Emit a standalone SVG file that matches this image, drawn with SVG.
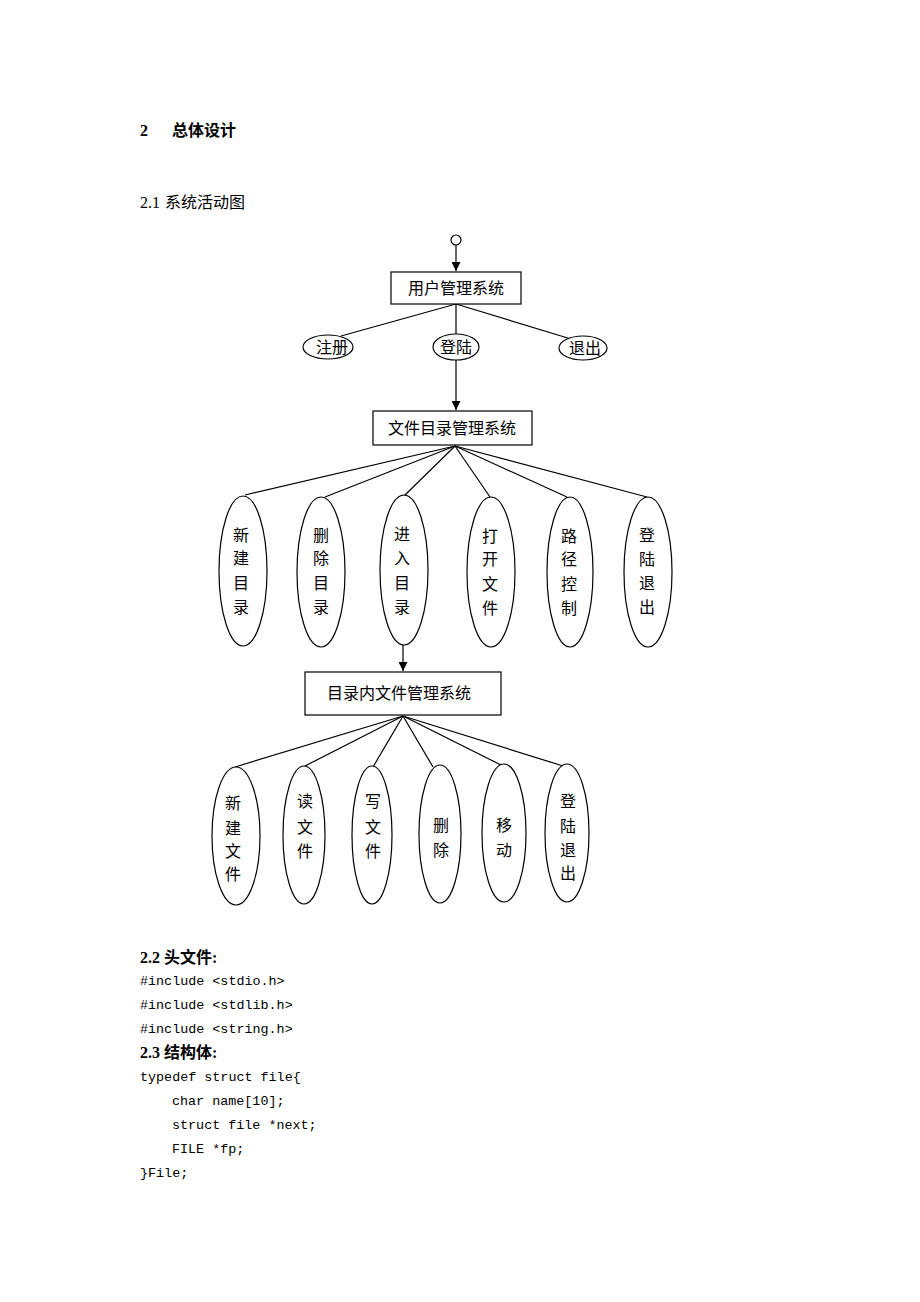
<svg xmlns="http://www.w3.org/2000/svg" width="920" height="1302" viewBox="0 0 920 1302">
<style>
.t{font-family:"Liberation Serif","Noto Sans CJK SC",serif;font-size:16px;fill:#000}
.b{font-weight:bold}
.c{font-family:"Liberation Mono","Noto Sans CJK SC",monospace;font-size:13.4px;fill:#000}
.lb{font-family:"Liberation Serif","Noto Sans CJK SC",serif;font-size:16px;fill:#000;text-anchor:middle}
.n{fill:#fff;stroke:#000;stroke-width:1.2}
.e{stroke:#000;stroke-width:1.2;fill:none}
</style>
<defs>
<marker id="ah" viewBox="0 0 10 10" refX="10" refY="5" markerWidth="9" markerHeight="9" markerUnits="userSpaceOnUse" orient="auto">
<path d="M0,0 L10,5 L0,10 z" fill="#000"/>
</marker>
</defs>
<rect width="920" height="1302" fill="#fff"/>
<g id="headings">
<text class="t b" x="140" y="136">2</text>
<text class="t b" x="172" y="136">总体设计</text>
<text class="t" x="140" y="208">2.1<tspan x="165">系统活动图</tspan></text>
</g>
<g id="connectors">
<line class="e" x1="456" y1="245" x2="456" y2="271" marker-end="url(#ah)"/>
<line class="e" x1="456" y1="304" x2="341" y2="336"/>
<line class="e" x1="456" y1="304" x2="456" y2="334"/>
<line class="e" x1="456" y1="304" x2="571" y2="339"/>
<line class="e" x1="456" y1="360" x2="456" y2="410" marker-end="url(#ah)"/>
<line class="e" x1="455" y1="446" x2="245" y2="495"/>
<line class="e" x1="455" y1="446" x2="325" y2="497"/>
<line class="e" x1="455" y1="446" x2="405" y2="495"/>
<line class="e" x1="455" y1="446" x2="490" y2="497"/>
<line class="e" x1="455" y1="446" x2="567" y2="497"/>
<line class="e" x1="455" y1="446" x2="647" y2="497"/>
<line class="e" x1="403" y1="645" x2="403" y2="671" marker-end="url(#ah)"/>
<line class="e" x1="403" y1="716" x2="235" y2="767"/>
<line class="e" x1="403" y1="716" x2="303" y2="767"/>
<line class="e" x1="403" y1="716" x2="373" y2="767"/>
<line class="e" x1="403" y1="716" x2="433" y2="767"/>
<line class="e" x1="403" y1="716" x2="503" y2="766"/>
<line class="e" x1="403" y1="716" x2="563" y2="766"/>
</g>
<g id="start"><circle class="n" cx="456" cy="240" r="5"/></g>
<g id="user-mgmt"><rect class="n" x="391" y="272" width="130" height="32"/><text class="lb" x="456" y="294">用户管理系统</text></g>
<g id="register"><ellipse class="n" cx="328" cy="347" rx="25" ry="12"/><text class="lb" x="332" y="353">注册</text></g>
<g id="login"><ellipse class="n" cx="456" cy="347" rx="23" ry="13"/><text class="lb" x="456" y="353">登陆</text></g>
<g id="exit"><ellipse class="n" cx="583" cy="348" rx="24" ry="12"/><text class="lb" x="585" y="354">退出</text></g>
<g id="dir-mgmt"><rect class="n" x="373" y="411" width="159" height="34"/><text class="lb" x="452" y="434">文件目录管理系统</text></g>
<g id="new-dir"><ellipse class="n" cx="243" cy="571" rx="24" ry="75"/>
<text class="lb" x="241" y="541">新</text><text class="lb" x="241" y="564">建</text><text class="lb" x="241" y="589">目</text><text class="lb" x="241" y="613">录</text></g>
<g id="del-dir"><ellipse class="n" cx="321" cy="572" rx="24" ry="75"/>
<text class="lb" x="321" y="541">删</text><text class="lb" x="321" y="564">除</text><text class="lb" x="321" y="589">目</text><text class="lb" x="321" y="613">录</text></g>
<g id="enter-dir"><ellipse class="n" cx="404" cy="570" rx="24" ry="75"/>
<text class="lb" x="402" y="540">进</text><text class="lb" x="402" y="564">入</text><text class="lb" x="402" y="589">目</text><text class="lb" x="402" y="613">录</text></g>
<g id="open-file"><ellipse class="n" cx="491" cy="572" rx="24" ry="75"/>
<text class="lb" x="490" y="542">打</text><text class="lb" x="490" y="565">开</text><text class="lb" x="490" y="590">文</text><text class="lb" x="490" y="614">件</text></g>
<g id="path-ctrl"><ellipse class="n" cx="570" cy="572" rx="23" ry="75"/>
<text class="lb" x="569" y="542">路</text><text class="lb" x="569" y="565">径</text><text class="lb" x="569" y="590">控</text><text class="lb" x="569" y="614">制</text></g>
<g id="logout1"><ellipse class="n" cx="648" cy="572" rx="24" ry="75"/>
<text class="lb" x="647" y="541">登</text><text class="lb" x="647" y="565">陆</text><text class="lb" x="647" y="589">退</text><text class="lb" x="647" y="613">出</text></g>
<g id="file-mgmt"><rect class="n" x="305" y="672" width="196" height="43"/><text class="lb" x="399" y="699">目录内文件管理系统</text></g>
<g id="new-file"><ellipse class="n" cx="236" cy="836" rx="24" ry="69"/>
<text class="lb" x="233" y="809">新</text><text class="lb" x="233" y="834">建</text><text class="lb" x="233" y="857">文</text><text class="lb" x="233" y="880">件</text></g>
<g id="read-file"><ellipse class="n" cx="304" cy="835" rx="21" ry="69"/>
<text class="lb" x="305" y="807">读</text><text class="lb" x="305" y="833">文</text><text class="lb" x="305" y="857">件</text></g>
<g id="write-file"><ellipse class="n" cx="372" cy="835" rx="20" ry="69"/>
<text class="lb" x="373" y="807">写</text><text class="lb" x="373" y="833">文</text><text class="lb" x="373" y="857">件</text></g>
<g id="delete"><ellipse class="n" cx="440" cy="834" rx="21" ry="69"/>
<text class="lb" x="441" y="831">删</text><text class="lb" x="441" y="856">除</text></g>
<g id="move"><ellipse class="n" cx="504" cy="833" rx="22" ry="69"/>
<text class="lb" x="504" y="831">移</text><text class="lb" x="504" y="856">动</text></g>
<g id="logout2"><ellipse class="n" cx="567" cy="833" rx="22" ry="69"/>
<text class="lb" x="568" y="807">登</text><text class="lb" x="568" y="832">陆</text><text class="lb" x="568" y="856">退</text><text class="lb" x="568" y="879">出</text></g>
<g id="code">
<text class="t b" x="140" y="963">2.2<tspan x="164">头文件:</tspan></text>
<text class="c" x="140" y="985">#include &lt;stdio.h&gt;</text>
<text class="c" x="140" y="1009">#include &lt;stdlib.h&gt;</text>
<text class="c" x="140" y="1033">#include &lt;string.h&gt;</text>
<text class="t b" x="140" y="1058">2.3<tspan x="164">结构体:</tspan></text>
<text class="c" x="140" y="1081">typedef struct file{</text>
<text class="c" x="172" y="1105">char name[10];</text>
<text class="c" x="172" y="1129">struct file *next;</text>
<text class="c" x="172" y="1153">FILE *fp;</text>
<text class="c" x="140" y="1177">}File;</text>
</g>
</svg>
